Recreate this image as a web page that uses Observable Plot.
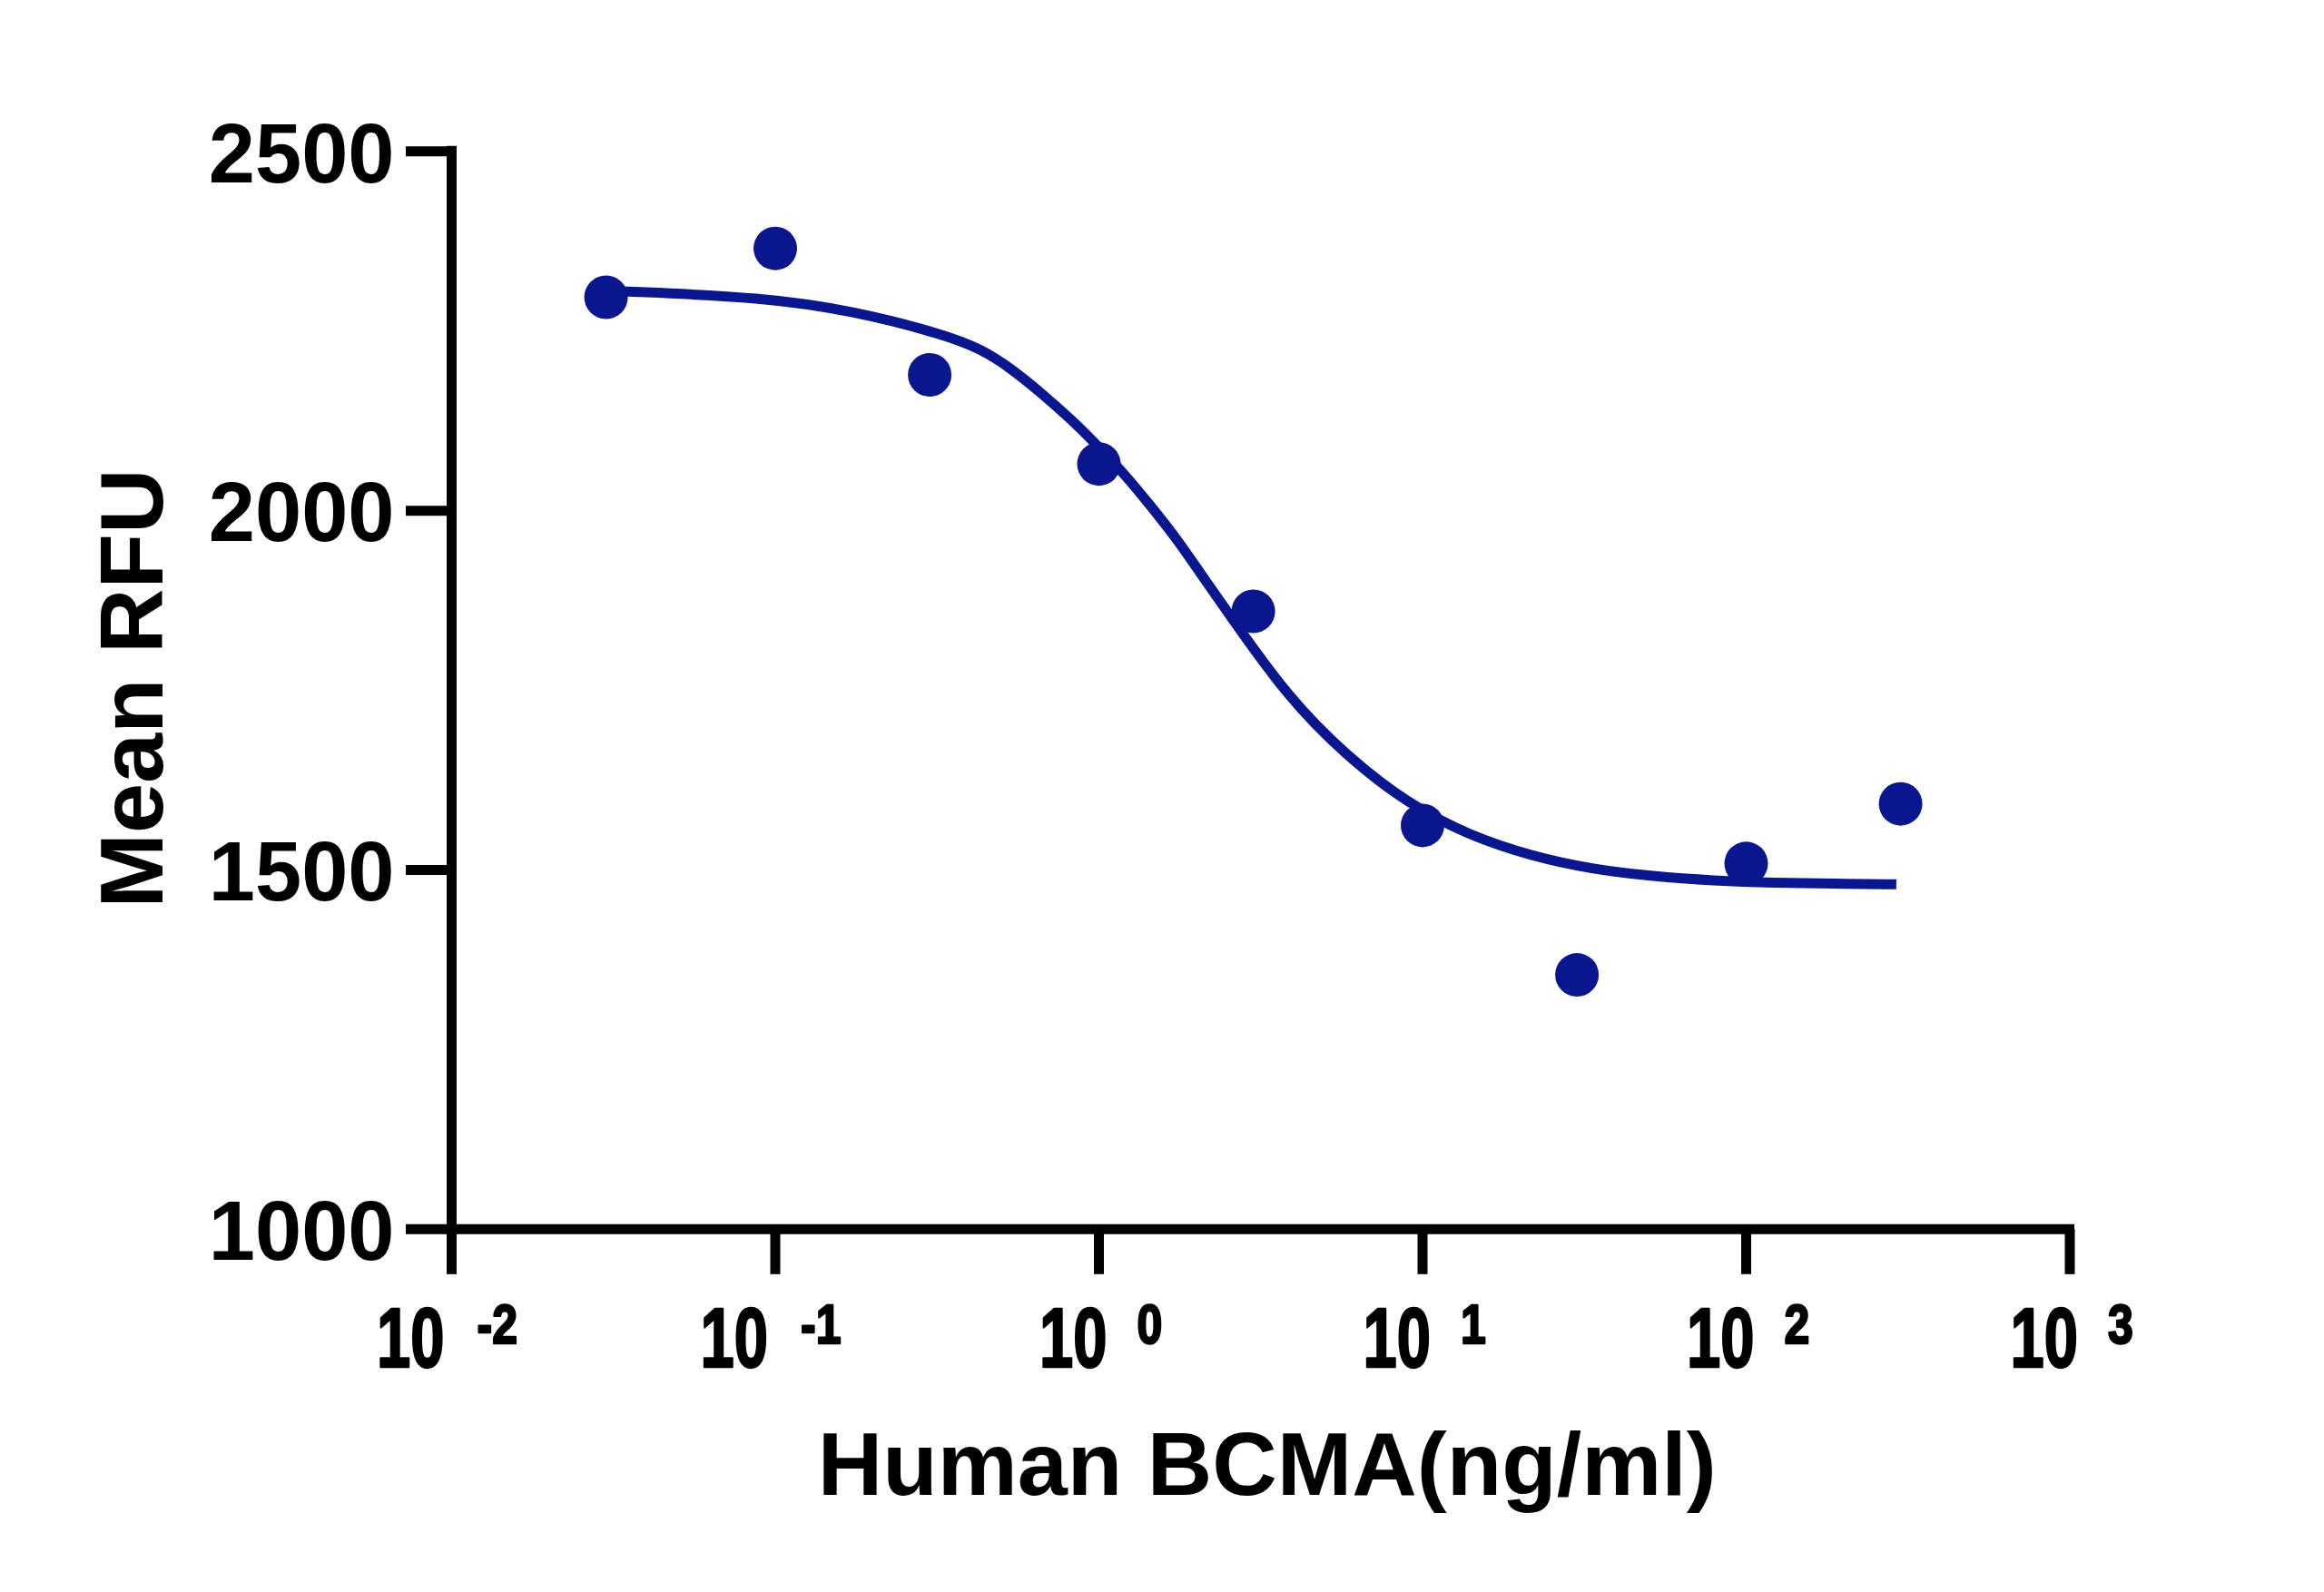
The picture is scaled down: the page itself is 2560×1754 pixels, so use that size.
<!DOCTYPE html>
<html>
<head>
<meta charset="utf-8">
<script src="https://cdn.jsdelivr.net/npm/d3@7"></script>
<script src="https://cdn.jsdelivr.net/npm/@observablehq/plot@0.6"></script>
<style>
  html, body { margin: 0; padding: 0; background: #fff; }
  #chart svg { display: block; }
</style>
</head>
<body>
<div id="chart"></div>
<script>
// ---- data ----
const concentration = [0.03, 0.1, 0.3, 1, 3, 10, 30, 100, 300];          // ng/ml
const meanRFU       = [2297, 2365, 2189, 2065, 1860, 1562, 1354, 1509, 1592];

// fitted curve
const fitConcentration = [0.03, 0.0348, 0.0918, 0.175, 0.334, 0.4325, 0.536, 0.667, 0.825, 0.958, 1.19, 1.45, 1.76, 2.08, 2.48, 3.82, 5.84, 9.01, 13.9, 21.8, 33.4, 51.5, 79.4, 122, 188, 291];
const fitRFU           = [2306, 2305, 2297, 2278, 2245, 2225, 2198, 2163, 2126, 2097, 2053, 2006, 1958, 1910, 1861, 1741, 1658, 1592, 1548, 1519, 1501, 1491, 1485, 1482, 1481, 1480];

const xDomain = [0.01, 1000];
const yDomain = [1000, 2500];
const xTicks = [0.01, 0.1, 1, 10, 100, 1000];
const xTickBase = "10";
const xTickExponents = ["-2", "-1", "0", "1", "2", "3"];
const yTicks = [1000, 1500, 2000, 2500];
const xTitle = "Human BCMA(ng/ml)";
const yTitle = "Mean RFU";

// ---- tables built from the arrays ----
const points = concentration.map((c, i) => ({c, v: meanRFU[i]}));
const fit = fitConcentration.map((c, i) => ({c, v: fitRFU[i]}));
const xTickRows = xTicks.map((t, i) => ({t, e: xTickExponents[i], neg: xTickExponents[i].startsWith("-")}));
const negRows = xTickRows.filter(d => d.neg);
const posRows = xTickRows.filter(d => !d.neg);

const BLUE = "#0a168e";
const FONT = "'Liberation Sans', Arial, Helvetica, sans-serif";
const AX = 11;
const BASE_SIZE = 93, EXP_SIZE = 61;

const baseText = {frameAnchor: "bottom", lineAnchor: "bottom", fontWeight: "bold", fontFamily: FONT, fill: "#000", stroke: "#000", strokeWidth: 2.5};

const chart = Plot.plot({
  width: 2560,
  height: 1754,
  marginLeft: 497,
  marginRight: 280.5,
  marginTop: 166.3,
  marginBottom: 400.2,
  x: {type: "log", domain: xDomain},
  y: {domain: yDomain},
  style: {background: "#fff", overflow: "visible", color: "#000"},
  marks: [
    // axis lines
    Plot.ruleX([xDomain[0]], {x: d => d, y1: yDomain[0], y2: yDomain[1], stroke: "#000", strokeWidth: AX, strokeLinecap: "square"}),
    Plot.ruleY([yDomain[0]], {y: d => d, x1: xDomain[0], x2: xDomain[1], stroke: "#000", strokeWidth: AX, strokeLinecap: "square"}),
    // ticks
    Plot.axisY(yTicks, {anchor: "left", tickSize: 50, strokeWidth: AX, tickFormat: () => "", label: null}),
    Plot.axisX(xTicks, {anchor: "bottom", tickSize: 50, strokeWidth: AX, tickFormat: () => "", label: null}),
    // y tick labels
    Plot.text(yTicks, {y: d => d, text: d => String(d), frameAnchor: "left", textAnchor: "end", lineAnchor: "middle",
      dx: -63, dy: 4.3, fontSize: 92, fontWeight: "bold", fontFamily: FONT, fill: "#000"}),
    // x tick labels: base and exponent (condensed afterwards)
    Plot.text(negRows, {...baseText, ariaDescription: "xtick-base", x: "t", text: () => xTickBase, textAnchor: "end", dx: -8, dy: 152, fontSize: BASE_SIZE}),
    Plot.text(negRows, {...baseText, ariaDescription: "xtick-exp", x: "t", text: "e", textAnchor: "start", dx: 28, dy: 125.5, fontSize: EXP_SIZE}),
    Plot.text(posRows, {...baseText, ariaDescription: "xtick-base", x: "t", text: () => xTickBase, textAnchor: "end", dx: 9, dy: 152, fontSize: BASE_SIZE}),
    Plot.text(posRows, {...baseText, ariaDescription: "xtick-exp", x: "t", text: "e", textAnchor: "start", dx: 42, dy: 125.5, fontSize: EXP_SIZE}),
    // axis titles
    Plot.text([xTitle], {text: d => d, frameAnchor: "bottom", textAnchor: "middle", lineAnchor: "bottom",
      dx: 7, dy: 293, fontSize: 99, fontWeight: "bold", fontFamily: FONT, fill: "#000"}),
    Plot.text([yTitle], {text: d => d, frameAnchor: "left", rotate: -90, textAnchor: "middle", lineAnchor: "bottom",
      dx: -318.7, dy: -2, fontSize: 99, fontWeight: "bold", fontFamily: FONT, fill: "#000"}),
    // fitted curve and data points
    Plot.line(fit, {x: "c", y: "v", stroke: BLUE, strokeWidth: 11, curve: "basis", strokeLinecap: "butt"}),
    Plot.dot(points, {x: "c", y: "v", r: 24, fill: BLUE, stroke: "none"})
  ]
});

// condense the x tick label glyphs horizontally (the reference uses a narrow face)
function condenseGroup(g, s) {
  g.querySelectorAll("text").forEach(t => {
    const tr = t.getAttribute("transform");
    if (tr) {
      t.setAttribute("transform", tr + ` scale(${s},1)`);
    } else {
      const x = +(t.getAttribute("x") || 0);
      t.setAttribute("transform", `translate(${x},0) scale(${s},1)`);
      t.setAttribute("x", 0);
    }
  });
}
chart.querySelectorAll("g").forEach(g => {
  const desc = g.getAttribute("aria-description");
  const fs = g.getAttribute("font-size");
  const isBase = desc === "xtick-base" || (!desc && fs === String(BASE_SIZE));
  const isExp = desc === "xtick-exp" || (!desc && fs === String(EXP_SIZE));
  if (isBase) condenseGroup(g, 0.72);
  else if (isExp) condenseGroup(g, 0.82);
});

document.getElementById("chart").appendChild(chart);
</script>
</body>
</html>
